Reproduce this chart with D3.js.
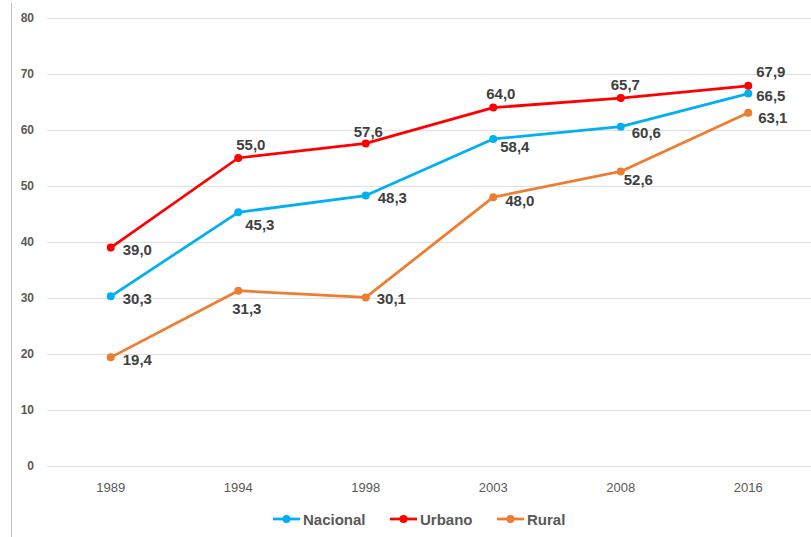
<!DOCTYPE html>
<html>
<head>
<meta charset="utf-8">
<script src="https://cdn.jsdelivr.net/npm/d3@7"></script>
<style>
  html, body { margin: 0; padding: 0; background: #ffffff; }
  svg { display: block; }
</style>
</head>
<body>
<svg id="chart" width="811" height="537"></svg>
<script>
// ---- data ----
const years = ["1989", "1994", "1998", "2003", "2008", "2016"];
const nacional = [30.3, 45.3, 48.3, 58.4, 60.6, 66.5];
const urbano   = [39.0, 55.0, 57.6, 64.0, 65.7, 67.9];
const rural    = [19.4, 31.3, 30.1, 48.0, 52.6, 63.1];
const seriesNames = ["Nacional", "Urbano", "Rural"];
const yTicks = [0, 10, 20, 30, 40, 50, 60, 70, 80];

// ---- styling / label placement (not data) ----
const colors = { Nacional: "#00B0F0", Urbano: "#FF0000", Rural: "#ED7D31" };
const labelOffsets = {
  Nacional: [[12, 2], [7, 12], [12, 2], [7, 8], [11, 6], [8, 1.5]],
  Urbano:   [[12, 2], [-2, -14], [-12, -12], [-7, -14], [-10, -14], [8, -14]],
  Rural:    [[12, 2], [-6, 18], [11, 1], [12, 3], [3, 8], [10, 5]]
};

const svg = d3.select("#chart");
const W = 811, H = 537;

const x = d3.scaleBand().domain(years).range([47, 812]);
const y = d3.scaleLinear().domain([0, 80]).range([466, 18]);
const cx = d => x(d) + x.bandwidth() / 2;

// left border line
svg.append("line")
  .attr("x1", 11.5).attr("x2", 11.5).attr("y1", 3).attr("y2", H)
  .attr("stroke", "#bfbfbf").attr("stroke-width", 1);

// gridlines
svg.append("g").selectAll("line").data(yTicks).join("line")
  .attr("x1", 47).attr("x2", W)
  .attr("y1", d => Math.round(y(d)) + 0.5).attr("y2", d => Math.round(y(d)) + 0.5)
  .attr("stroke", "#e0e0e0").attr("stroke-width", 1);

// y axis labels
const yAxis = d3.axisLeft(y).tickValues(yTicks).tickSize(0).tickPadding(0);
const yg = svg.append("g").attr("transform", "translate(34,0)").call(yAxis);
yg.select(".domain").remove();
yg.selectAll("text")
  .attr("fill", "#595959")
  .style("font-family", "'Liberation Sans', Arial, sans-serif")
  .style("font-size", "12px").style("font-weight", "bold");

// x axis labels
const xAxis = d3.axisBottom(x).tickSize(0).tickPadding(0);
const xg = svg.append("g").attr("transform", "translate(0,480)").call(xAxis);
xg.select(".domain").remove();
xg.selectAll("text")
  .attr("fill", "#595959")
  .attr("dy", "0.35em").attr("y", 7)
  .style("font-family", "'Liberation Sans Narrow', 'Liberation Sans', Arial, sans-serif")
  .style("font-size", "13px");

// series
const seriesData = { Nacional: nacional, Urbano: urbano, Rural: rural };
const drawOrder = ["Rural", "Nacional", "Urbano"];
const line = d3.line().x(d => cx(d.year)).y(d => y(d.value));

drawOrder.forEach(name => {
  const pts = years.map((yr, i) => ({ year: yr, value: seriesData[name][i], i }));
  const g = svg.append("g");
  g.append("path").datum(pts)
    .attr("d", line).attr("fill", "none")
    .attr("stroke", colors[name]).attr("stroke-width", 2.75)
    .attr("stroke-linejoin", "round").attr("stroke-linecap", "round");
  g.selectAll("circle").data(pts).join("circle")
    .attr("cx", d => cx(d.year)).attr("cy", d => y(d.value))
    .attr("r", 4).attr("fill", colors[name]);
});

// data labels
seriesNames.forEach(name => {
  const pts = years.map((yr, i) => ({ year: yr, value: seriesData[name][i], i }));
  svg.append("g").selectAll("text").data(pts).join("text")
    .attr("x", d => cx(d.year) + labelOffsets[name][d.i][0])
    .attr("y", d => y(d.value) + labelOffsets[name][d.i][1])
    .attr("dominant-baseline", "central")
    .attr("fill", "#404040")
    .style("font-family", "'Liberation Sans', Arial, sans-serif")
    .style("font-size", "15px").style("font-weight", "bold")
    .text(d => d.value.toFixed(1).replace(".", ","));
});

// legend
const legendX = { Nacional: 273, Urbano: 390, Rural: 497 };
const lg = svg.append("g");
seriesNames.forEach(name => {
  const lx = legendX[name], ly = 519;
  lg.append("line").attr("x1", lx).attr("x2", lx + 27).attr("y1", ly).attr("y2", ly)
    .attr("stroke", colors[name]).attr("stroke-width", 2.75);
  lg.append("circle").attr("cx", lx + 13.5).attr("cy", ly).attr("r", 4).attr("fill", colors[name]);
  lg.append("text").attr("x", lx + 30).attr("y", ly)
    .attr("dominant-baseline", "central")
    .attr("fill", "#595959")
    .style("font-family", "'Liberation Sans', Arial, sans-serif")
    .style("font-size", "15px").style("font-weight", "bold")
    .text(name);
});
</script>
</body>
</html>
